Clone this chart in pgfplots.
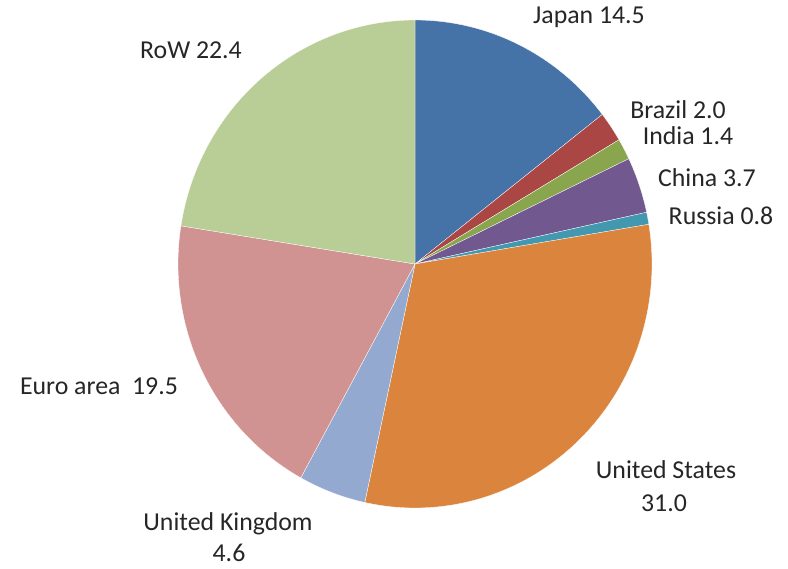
\documentclass[border=0pt]{standalone}
\usepackage{pgfplots}
\pgfplotsset{compat=1.18}
\usepackage{fontspec}
\setmainfont{Carlito}
\definecolor{cJapan}{HTML}{4572A7}
\definecolor{cBrazil}{HTML}{AA4643}
\definecolor{cIndia}{HTML}{89A54E}
\definecolor{cChina}{HTML}{71588F}
\definecolor{cRussia}{HTML}{4198AF}
\definecolor{cUS}{HTML}{DB843D}
\definecolor{cUK}{HTML}{93A9CF}
\definecolor{cEuro}{HTML}{D19392}
\definecolor{cRoW}{HTML}{B9CD96}
% #1 = cumulative start, #2 = value (share, %), #3 = colour
\newcommand\slice[3]{%
  \pgfmathsetmacro\aA{90-3.6*#1}%
  \pgfmathsetmacro\aB{90-3.6*(#1+#2)}%
  \edef\temp{\noexpand\addplot[fill=#3,draw=white,line width=0.3pt,domain=\aA:\aB,samples=90]
    ({415+237*cos(x)},{264-244*sin(x)}) -- (axis cs:415,264) -- cycle;}%
  \temp}
\begin{document}
\begin{tikzpicture}
\begin{axis}[
  scale only axis, width=788pt, height=569pt,
  xmin=0, xmax=788, ymin=0, ymax=569, y dir=reverse,
  hide axis, clip=false,
]
\path (rel axis cs:0,0) rectangle (rel axis cs:1,1);
\slice{0}{14.5}{cJapan}
\slice{14.5}{2.0}{cBrazil}
\slice{16.5}{1.4}{cIndia}
\slice{17.9}{3.7}{cChina}
\slice{21.6}{0.8}{cRussia}
\slice{22.4}{31.0}{cUS}
\slice{53.4}{4.6}{cUK}
\slice{58.0}{19.5}{cEuro}
\slice{77.5}{22.5}{cRoW}
\begin{scope}[every node/.style={font=\fontsize{25.8}{33}\selectfont, text=black!85, inner sep=0pt}]
\node at (axis cs:589,17) {Japan 14.5};
\node at (axis cs:678,110) {Brazil 2.0};
\node at (axis cs:688,136) {India 1.4};
\node at (axis cs:707,178) {China 3.7};
\node at (axis cs:721,216) {Russia 0.8};
\node at (axis cs:666,470) {United States};
\node at (axis cs:664,503) {31.0};
\node at (axis cs:228,524) {United Kingdom};
\node at (axis cs:229,553) {4.6};
\node at (axis cs:99,386) {Euro area~~19.5};
\node at (axis cs:191,50) {RoW 22.4};
\end{scope}
\end{axis}
\end{tikzpicture}
\end{document}
